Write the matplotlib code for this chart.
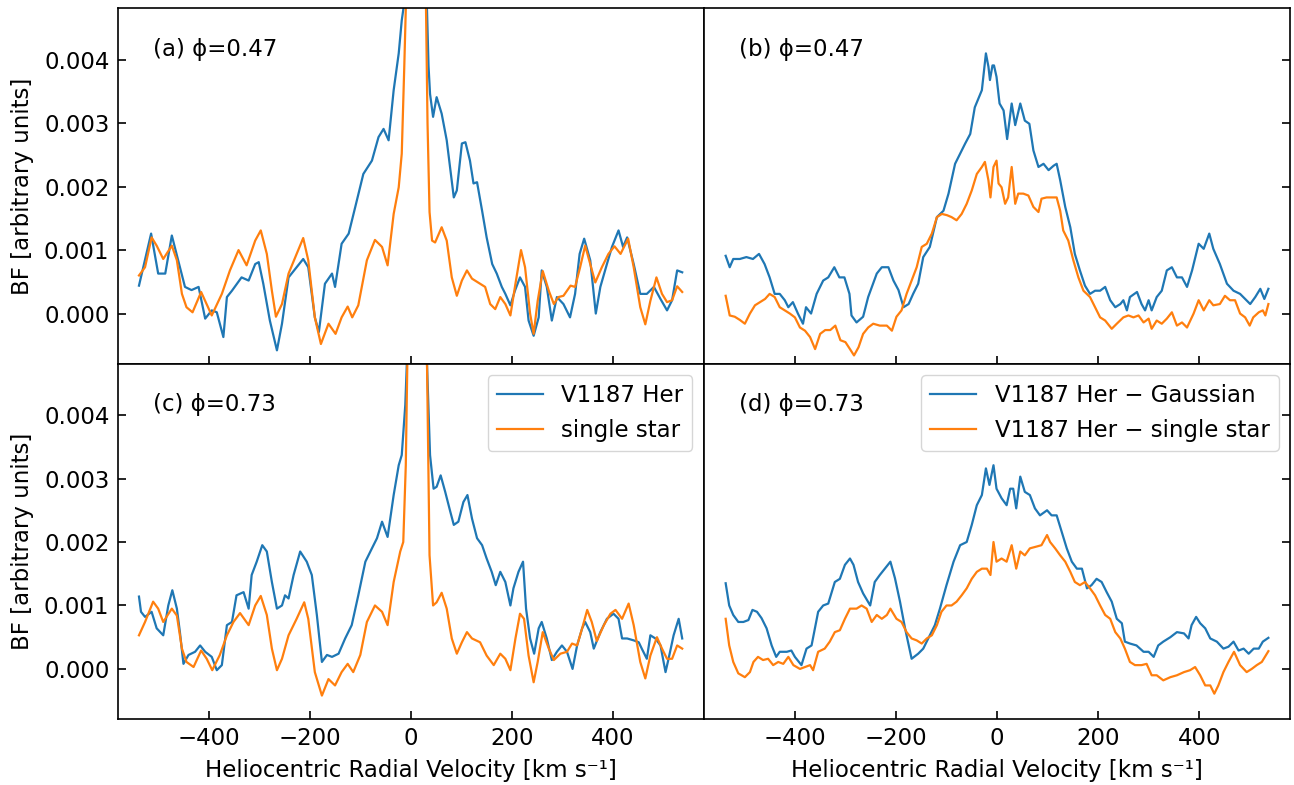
import numpy as np
import matplotlib
matplotlib.use("Agg")
import matplotlib.pyplot as plt

# broadening functions, BF values in units of 1e-3
# (a) phi = 0.47, V1187 Her
v_a_her = [-538, -514, -500, -486, -473, -447, -434, -420, -407, -394, -384, -371, -364, -354,
           -335, -321, -308, -301, -292, -279, -265, -255, -242, -226, -213, -203, -190, -182,
           -170, -156, -150, -137, -123, -110, -94, -77, -64, -54, -44, -34, -24, -18, -13,
           -5, 5, 15, 25, 32, 35, 38, 44, 51, 61, 71, 85, 91, 101, 108, 117, 124, 131, 141,
           150, 161, 170, 180, 187, 197, 206, 216, 226, 233, 243, 253, 259, 269, 279, 289,
           302, 315, 325, 334, 343, 355, 366, 375, 388, 398, 411, 420, 428, 441, 454, 467,
           481, 494, 507, 517, 527, 537]
bf_a_her = [0.44, 1.26, 0.63, 0.63, 1.23, 0.42, 0.37, 0.42, -0.08, 0.05, 0.02, -0.37, 0.26, 0.36,
            0.57, 0.52, 0.78, 0.81, 0.47, -0.11, -0.58, -0.16, 0.57, 0.73, 0.86, 0.73, -0.06, -0.29,
            0.47, 0.63, 0.42, 1.10, 1.26, 1.68, 2.20, 2.41, 2.78, 2.91, 2.73, 3.52, 4.10, 4.62, 4.90,
            5.60, 6.20, 6.00, 5.50, 4.78, 3.90, 3.46, 3.10, 3.41, 3.15, 2.73, 1.83, 1.94, 2.68, 2.70,
            2.41, 2.05, 2.07, 1.62, 1.20, 0.78, 0.63, 0.42, 0.31, 0.13, 0.36, 0.57, 0.42, -0.11,
            -0.35, -0.06, 0.68, 0.42, -0.11, 0.26, 0.15, -0.06, 0.31, 0.94, 1.18, 0.84, 0.00, 0.42,
            0.78, 1.05, 1.31, 1.05, 1.20, 0.78, 0.31, 0.31, 0.42, 0.23, 0.05, 0.21, 0.68, 0.65]

# (a) phi = 0.47, single star template
v_a_star = [-538, -526, -513, -503, -490, -473, -463, -453, -444, -432, -415, -394, -374, -358,
            -341, -325, -308, -297, -285, -275, -267, -255, -242, -226, -213, -203, -190, -178,
            -163, -149, -137, -125, -116, -104, -87, -71, -57, -46, -34, -24, -18, -13, -10,
            -5, 5, 10, 20, 27, 30, 33, 37, 42, 48, 61, 71, 81, 91, 101, 111, 121, 137, 147,
            157, 167, 177, 187, 197, 207, 218, 226, 236, 243, 251, 261, 273, 283, 292, 302,
            316, 325, 335, 345, 355, 365, 378, 391, 403, 415, 430, 441, 454, 464, 474, 486,
            497, 507, 517, 527, 537]
bf_a_star = [0.60, 0.73, 1.20, 1.07, 0.86, 1.07, 0.84, 0.31, 0.10, 0.02, 0.34, -0.03, 0.31, 0.68,
             1.00, 0.76, 1.15, 1.31, 0.94, 0.36, -0.05, 0.15, 0.63, 0.94, 1.19, 0.84, -0.06, -0.48,
             -0.16, -0.32, -0.06, 0.11, -0.06, 0.13, 0.84, 1.16, 1.05, 0.76, 1.57, 1.99, 2.52, 3.89,
             4.80, 10.0, 30.0, 35.0, 20.0, 8.0, 4.80, 3.00, 1.60, 1.15, 1.12, 1.36, 1.15, 0.57,
             0.28, 0.52, 0.68, 0.55, 0.47, 0.42, 0.15, 0.07, 0.26, 0.15, -0.03, 0.47, 1.00, 0.73,
             0.00, -0.32, 0.20, 0.67, 0.36, 0.15, 0.26, 0.28, 0.44, 0.42, 0.73, 1.07, 0.78, 0.49,
             0.73, 0.94, 1.06, 0.94, 1.18, 0.73, 0.10, -0.17, 0.20, 0.57, 0.31, 0.18, 0.21, 0.43,
             0.34]

# (b) phi = 0.47, V1187 Her minus Gaussian
v_b_gau = [-537, -529, -522, -509, -496, -483, -471, -460, -450, -440, -430, -420, -413, -404,
           -394, -384, -378, -368, -357, -344, -334, -322, -312, -302, -292, -288, -278, -265,
           -255, -238, -228, -215, -205, -195, -185, -175, -166, -156, -146, -133, -119, -106,
           -96, -83, -73, -63, -53, -44, -30, -22, -17, -14, -9, -6, -1, 5, 13, 20, 29, 36,
           46, 55, 64, 72, 82, 92, 102, 112, 118, 125, 135, 145, 154, 164, 174, 184, 194,
           204, 214, 224, 234, 244, 250, 257, 263, 277, 286, 293, 300, 306, 316, 326, 336,
           346, 356, 366, 376, 386, 399, 409, 420, 428, 441, 455, 468, 481, 491, 501, 511,
           521, 529, 537]
bf_b_gau = [0.91, 0.73, 0.86, 0.86, 0.89, 0.86, 0.94, 0.78, 0.57, 0.31, 0.31, 0.21, 0.10, 0.18,
            0.00, -0.16, 0.10, 0.00, 0.31, 0.52, 0.57, 0.73, 0.57, 0.57, 0.31, -0.03, -0.14, -0.05,
            0.26, 0.63, 0.73, 0.73, 0.52, 0.37, 0.10, 0.15, 0.31, 0.47, 0.89, 1.05, 1.52, 1.62,
            1.89, 2.36, 2.52, 2.68, 2.83, 3.25, 3.52, 4.10, 3.89, 3.68, 3.91, 3.91, 3.73, 3.31,
            3.20, 2.75, 3.31, 2.97, 3.31, 3.04, 2.99, 2.57, 2.31, 2.36, 2.26, 2.33, 2.36, 2.10,
            1.68, 1.36, 0.94, 0.68, 0.44, 0.31, 0.36, 0.36, 0.42, 0.21, 0.10, 0.15, 0.21, 0.05,
            0.26, 0.34, 0.15, 0.05, 0.21, 0.05, 0.26, 0.36, 0.68, 0.73, 0.57, 0.57, 0.42, 0.68,
            1.10, 1.02, 1.26, 1.02, 0.78, 0.47, 0.36, 0.31, 0.23, 0.15, 0.26, 0.39, 0.23, 0.39]

# (b) phi = 0.47, V1187 Her minus single star
v_b_star = [-537, -529, -519, -509, -499, -489, -479, -469, -459, -450, -440, -430, -420, -410,
            -400, -390, -380, -370, -360, -350, -340, -330, -320, -310, -300, -291, -283, -274,
            -265, -255, -245, -232, -218, -208, -199, -189, -179, -169, -159, -149, -139, -129,
            -119, -109, -99, -90, -80, -70, -60, -50, -40, -30, -24, -17, -13, -7, -1, 3, 9,
            16, 22, 29, 36, 42, 52, 62, 72, 82, 88, 98, 108, 118, 125, 131, 141, 151, 161,
            171, 184, 194, 204, 214, 227, 237, 250, 260, 270, 280, 290, 300, 306, 316, 326,
            336, 346, 356, 366, 376, 389, 399, 409, 420, 428, 441, 451, 461, 471, 481, 491,
            500, 507, 518, 526, 531, 537]
bf_b_star = [0.28, -0.03, -0.05, -0.10, -0.16, 0.00, 0.13, 0.18, 0.23, 0.31, 0.26, 0.10, 0.05, 0.00,
             -0.06, -0.22, -0.27, -0.37, -0.56, -0.32, -0.26, -0.26, -0.19, -0.42, -0.45, -0.56,
             -0.66, -0.53, -0.32, -0.22, -0.16, -0.19, -0.19, -0.27, -0.05, 0.05, 0.31, 0.52, 0.73,
             1.05, 1.10, 1.26, 1.52, 1.57, 1.55, 1.52, 1.47, 1.57, 1.73, 1.94, 2.20, 2.31, 2.39,
             2.10, 1.83, 2.31, 2.41, 2.05, 1.99, 1.73, 1.83, 2.31, 1.73, 1.89, 1.89, 1.86, 1.68,
             1.60, 1.81, 1.83, 1.83, 1.83, 1.62, 1.31, 1.15, 0.84, 0.57, 0.36, 0.26, 0.10, -0.06,
             -0.11, -0.24, -0.16, -0.06, -0.03, -0.06, -0.03, -0.14, -0.08, -0.24, -0.11, -0.16,
             -0.08, 0.02, -0.19, -0.14, -0.22, 0.00, 0.21, 0.05, 0.21, 0.13, 0.15, 0.28, 0.21,
             0.21, 0.00, -0.06, -0.19, -0.06, 0.02, 0.05, -0.03, 0.15]

# (c) phi = 0.73, V1187 Her
v_c_her = [-538, -534, -526, -513, -503, -490, -480, -472, -463, -457, -450, -440, -427, -417,
           -407, -394, -384, -374, -364, -354, -345, -331, -321, -315, -305, -294, -285, -275,
           -265, -255, -249, -242, -232, -219, -206, -196, -186, -176, -166, -156, -143, -130,
           -117, -104, -90, -77, -67, -57, -46, -34, -24, -18, -11, -8, 0, 10, 20, 32, 38,
           45, 51, 59, 68, 78, 85, 94, 104, 112, 121, 131, 141, 150, 160, 168, 177, 187, 197,
           203, 213, 222, 228, 236, 244, 253, 259, 269, 279, 289, 299, 309, 320, 329, 339,
           345, 355, 362, 375, 388, 401, 411, 418, 428, 441, 451, 457, 467, 474, 484, 494,
           504, 510, 520, 530, 537]
bf_c_her = [1.14, 0.90, 0.82, 0.90, 0.64, 0.53, 1.00, 1.24, 0.95, 0.58, 0.08, 0.22, 0.27, 0.37,
            0.27, 0.19, -0.02, 0.06, 0.69, 0.74, 1.16, 1.21, 0.95, 1.48, 1.69, 1.95, 1.85, 1.37,
            0.95, 1.00, 1.16, 1.11, 1.48, 1.85, 1.69, 1.48, 0.85, 0.11, 0.22, 0.19, 0.24, 0.48,
            0.69, 1.16, 1.69, 1.90, 2.06, 2.32, 2.08, 2.74, 3.21, 3.37, 4.16, 4.80, 5.50, 6.00,
            5.60, 4.80, 3.37, 2.84, 2.87, 3.05, 2.79, 2.48, 2.27, 2.32, 2.63, 2.74, 2.37, 2.06,
            1.95, 1.74, 1.53, 1.32, 1.53, 1.37, 1.00, 1.27, 1.53, 1.69, 0.95, 0.48, 0.24, 0.64,
            0.74, 0.48, 0.14, 0.27, 0.37, 0.27, 0.00, 0.37, 0.64, 0.74, 0.58, 0.32, 0.58, 0.79,
            0.87, 0.79, 0.48, 0.48, 0.45, 0.42, 0.32, 0.16, 0.53, 0.48, 0.37, -0.05, 0.16, 0.53,
            0.79, 0.48]

# (c) phi = 0.73, single star template
v_c_star = [-538, -526, -510, -500, -490, -473, -463, -453, -444, -430, -415, -404, -393, -378,
            -364, -351, -338, -321, -308, -297, -285, -275, -265, -255, -242, -226, -211, -203,
            -190, -176, -163, -150, -137, -125, -114, -100, -87, -71, -57, -46, -34, -21, -15,
            -10, -7, -3, 5, 10, 20, 27, 32, 37, 44, 51, 61, 71, 81, 91, 101, 111, 121, 137,
            150, 164, 177, 187, 197, 207, 216, 224, 233, 243, 251, 261, 273, 283, 296, 309,
            319, 329, 339, 349, 358, 368, 382, 395, 405, 418, 431, 441, 454, 464, 474, 487,
            497, 507, 517, 527, 537]
bf_c_star = [0.53, 0.74, 1.06, 0.95, 0.74, 0.95, 0.84, 0.32, 0.11, 0.03, 0.29, 0.16, -0.02, 0.22,
             0.53, 0.74, 0.88, 0.69, 1.00, 1.15, 0.85, 0.32, -0.02, 0.16, 0.53, 0.79, 1.05, 0.79,
             -0.05, -0.42, -0.16, -0.26, -0.05, 0.08, -0.05, 0.22, 0.74, 1.00, 0.90, 0.69, 1.37,
             1.85, 2.00, 3.21, 4.80, 10.0, 30.0, 35.0, 20.0, 8.0, 4.80, 1.79, 1.00, 1.05, 1.20,
             0.95, 0.48, 0.24, 0.42, 0.58, 0.48, 0.42, 0.21, 0.06, 0.24, 0.16, -0.02, 0.48, 0.87,
             0.79, 0.21, -0.21, 0.11, 0.58, 0.32, 0.14, 0.24, 0.27, 0.40, 0.37, 0.64, 0.93, 0.74,
             0.44, 0.69, 0.87, 0.93, 0.79, 1.03, 0.69, 0.11, -0.15, 0.21, 0.50, 0.32, 0.16, 0.16,
             0.37, 0.32]

# (d) phi = 0.73, V1187 Her minus Gaussian
v_d_gau = [-537, -530, -522, -512, -502, -492, -484, -475, -466, -456, -446, -437, -430, -416,
           -407, -400, -387, -377, -367, -354, -344, -334, -321, -311, -301, -291, -284, -275,
           -265, -251, -242, -232, -222, -211, -202, -192, -182, -169, -156, -146, -133, -123,
           -113, -100, -86, -73, -60, -50, -40, -30, -22, -15, -7, -1, 9, 19, 26, 32, 38, 46,
           55, 65, 75, 85, 99, 108, 118, 128, 138, 148, 158, 168, 178, 187, 197, 207, 217,
           227, 237, 247, 253, 263, 276, 290, 300, 310, 319, 329, 343, 356, 370, 379, 385,
           394, 402, 412, 422, 435, 448, 458, 468, 478, 488, 498, 508, 518, 526, 537]
bf_d_gau = [1.35, 1.00, 0.85, 0.74, 0.74, 0.77, 0.93, 0.90, 0.80, 0.64, 0.37, 0.19, 0.27, 0.27,
            0.29, 0.19, 0.06, 0.32, 0.37, 0.90, 1.00, 1.03, 1.37, 1.42, 1.64, 1.74, 1.64, 1.37,
            1.19, 1.00, 1.37, 1.48, 1.58, 1.69, 1.43, 1.06, 0.64, 0.16, 0.24, 0.32, 0.53, 0.69,
            0.95, 1.32, 1.69, 1.95, 2.00, 2.27, 2.58, 2.74, 3.16, 2.90, 3.21, 2.84, 2.69, 2.58,
            2.84, 2.84, 2.53, 3.03, 2.79, 2.74, 2.53, 2.42, 2.50, 2.42, 2.42, 2.16, 1.90, 1.69,
            1.58, 1.58, 1.27, 1.32, 1.42, 1.37, 1.21, 1.06, 0.79, 0.72, 0.43, 0.40, 0.37, 0.27,
            0.27, 0.19, 0.37, 0.43, 0.50, 0.58, 0.56, 0.48, 0.69, 0.82, 0.72, 0.64, 0.48, 0.43,
            0.32, 0.35, 0.43, 0.29, 0.32, 0.24, 0.32, 0.32, 0.43, 0.49]

# (d) phi = 0.73, V1187 Her minus single star
v_d_star = [-537, -530, -522, -512, -499, -489, -482, -473, -463, -453, -443, -433, -423, -413,
            -403, -390, -380, -370, -364, -354, -341, -331, -321, -311, -301, -291, -278, -268,
            -258, -248, -238, -228, -218, -211, -199, -189, -179, -169, -159, -149, -139, -129,
            -119, -110, -100, -90, -80, -70, -60, -50, -40, -30, -20, -13, -7, -1, 9, 19, 29,
            38, 46, 55, 65, 79, 88, 99, 105, 115, 125, 135, 145, 154, 164, 174, 184, 194, 204,
            214, 224, 234, 244, 253, 263, 273, 286, 296, 306, 316, 329, 343, 356, 370, 382,
            392, 402, 412, 422, 430, 438, 448, 458, 469, 481, 494, 504, 514, 524, 537]
bf_d_star = [0.79, 0.37, 0.11, -0.07, -0.13, -0.05, 0.11, 0.19, 0.14, 0.16, 0.06, 0.11, 0.08, 0.19,
             0.06, 0.00, 0.03, 0.06, -0.02, 0.27, 0.32, 0.43, 0.58, 0.61, 0.79, 0.95, 0.95, 1.00,
             0.95, 0.74, 0.85, 0.79, 0.85, 0.95, 0.79, 0.74, 0.58, 0.48, 0.45, 0.40, 0.48, 0.53,
             0.69, 0.90, 1.00, 1.00, 1.06, 1.16, 1.27, 1.42, 1.53, 1.58, 1.58, 1.48, 2.00, 1.69,
             1.74, 1.69, 1.95, 1.58, 1.85, 1.79, 1.90, 1.93, 1.95, 2.11, 2.00, 1.90, 1.79, 1.69,
             1.53, 1.37, 1.32, 1.37, 1.27, 1.16, 1.00, 0.85, 0.79, 0.58, 0.48, 0.32, 0.11, 0.06,
             0.06, 0.08, -0.10, -0.10, -0.18, -0.13, -0.10, -0.05, -0.02, 0.03, -0.10, -0.26,
             -0.26, -0.39, -0.26, -0.05, 0.11, 0.27, 0.06, -0.05, 0.00, 0.06, 0.11, 0.28]

panels = [
    ("(a) ϕ=0.47", v_a_her, bf_a_her, v_a_star, bf_a_star, None),
    ("(b) ϕ=0.47", v_b_gau, bf_b_gau, v_b_star, bf_b_star, None),
    ("(c) ϕ=0.73", v_c_her, bf_c_her, v_c_star, bf_c_star, ["V1187 Her", "single star"]),
    ("(d) ϕ=0.73", v_d_gau, bf_d_gau, v_d_star, bf_d_star,
     ["V1187 Her − Gaussian", "V1187 Her − single star"]),
]

plt.rcParams["font.size"] = 16.5

fig, axes = plt.subplots(2, 2, figsize=(12.94, 7.85), dpi=100, sharex=True, sharey=True,
                         gridspec_kw=dict(hspace=0, wspace=0))
fig.subplots_adjust(left=0.091, right=0.997, top=0.9894, bottom=0.084)

for ax, (title, vb, bb, vo, bo, labels) in zip(axes.flat, panels):
    l1, = ax.plot(vb, np.array(bb) * 1e-3, color="tab:blue", lw=1.6)
    l2, = ax.plot(vo, np.array(bo) * 1e-3, color="tab:orange", lw=1.6)
    ax.text(0.06, 0.885, title, transform=ax.transAxes, va="center", ha="left")
    if labels:
        ax.legend([l1, l2], labels, loc="upper right")
    for s in ax.spines.values():
        s.set_linewidth(1.2)
    ax.tick_params(direction="in", length=6, width=1.2)
    ax.tick_params(axis="y", pad=6)
    ax.tick_params(axis="x", pad=6)

ax = axes[0, 0]
ax.set_xlim(-580, 580)
ax.set_ylim(-0.00079, 0.00481)
ax.set_yticks([0, 0.001, 0.002, 0.003, 0.004])
ax.set_xticks([-400, -200, 0, 200, 400])

for ax in axes[:, 1]:
    ax.tick_params(left=False, right=True, labelleft=False)
for ax in axes[:, 0]:
    ax.set_ylabel("BF [arbitrary units]", labelpad=7)
for ax in axes[1, :]:
    ax.set_xlabel("Heliocentric Radial Velocity [km s⁻¹]", labelpad=6)

fig.savefig("out.png")
